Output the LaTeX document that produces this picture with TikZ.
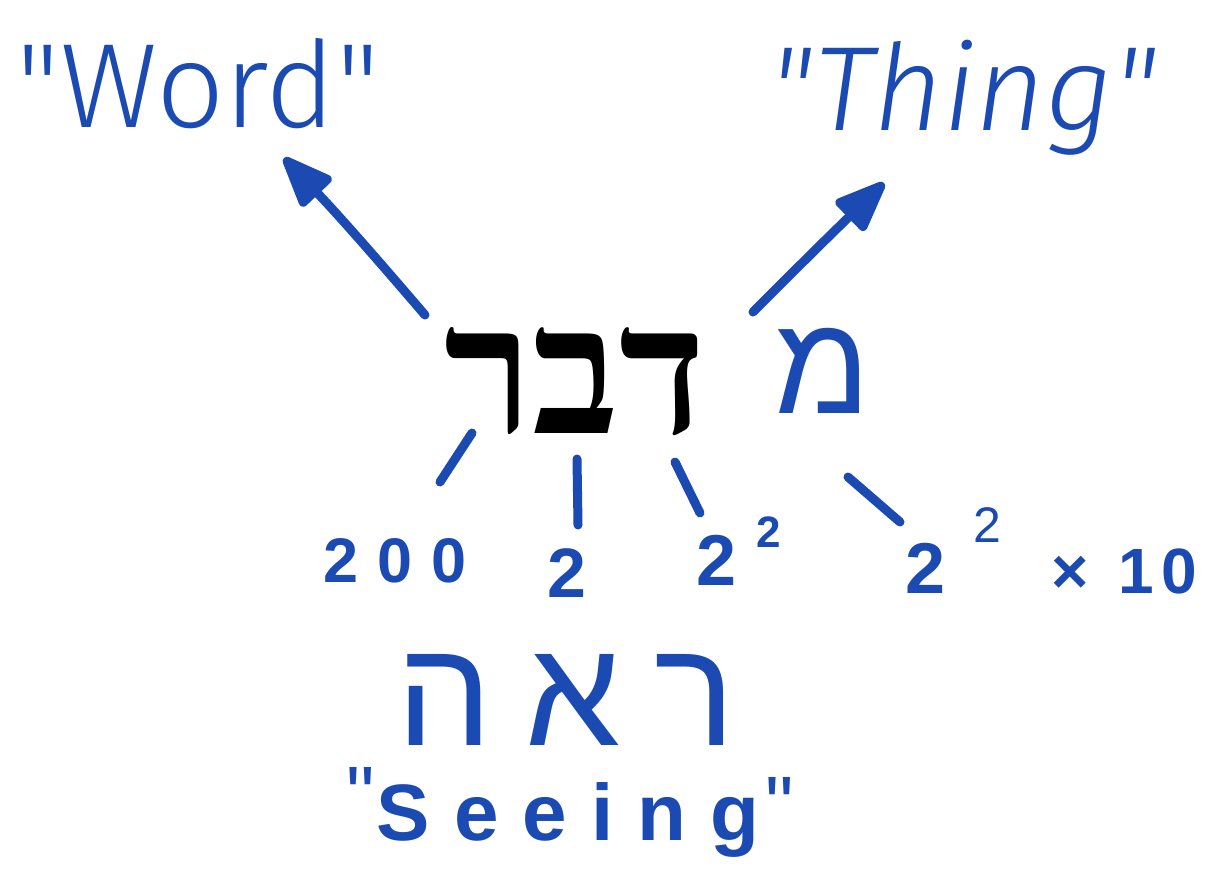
\documentclass[tikz,border=0pt]{standalone}
\usepackage{fontspec}
\setmainfont{Liberation Sans}[Ligatures=TeXOff]
\TeXXeTstate=1
\newfontfamily\thinsans{Fira Sans Light}
\newfontfamily\hebblack[Script=Hebrew]{Liberation Serif}
\newfontfamily\hebhand[Script=Hebrew]{Liberation Sans}
\usetikzlibrary{arrows.meta}
\definecolor{ink}{RGB}{27,75,178}
\begin{document}
\begin{tikzpicture}[x=1pt,y=-1pt,
  txt/.style={text=ink, inner sep=0pt, anchor=base},
  tick/.style={draw=ink, line width=9pt, line cap=round},
  pointer/.style={draw=ink, line width=9pt, line cap=round, line join=round,
    -{Triangle[length=58pt,width=44pt,round]}},
]
\useasboundingbox (0,0) rectangle (1210,892);
\fill[white] (0,0) rectangle (1210,892);

% top words
\node[txt, font=\thinsans\fontsize{120}{124}\selectfont] (word) at (198,127) {"Word"};
\node[txt, font=\thinsans\itshape\fontsize{120}{124}\selectfont] (thing) at (963,130) {"Thing"};

% central Hebrew word
\node[inner sep=0pt, anchor=base, font=\hebblack\bfseries\fontsize{180}{186}\selectfont] (davar) at (575,433) {\beginR דבר\endR};
\node[txt, font=\hebhand\fontsize{140}{144}\selectfont] (mem) at (823,413) {\beginR מ\endR};

% arrows
\coordinate (aw-tail) at (425,315);
\coordinate (aw-tip) at (284,158);
\coordinate (at-tail) at (753,312);
\coordinate (at-tip) at (884,183);
\draw[pointer] (aw-tail) .. controls (395,280) and (345,222) .. (aw-tip);
\draw[pointer] (at-tail) .. controls (790,275) and (820,245) .. (at-tip);

% numeric values
\node[txt, font=\bfseries\fontsize{63}{66}\selectfont\addfontfeature{LetterSpace=30}] (v200) at (395,582) {200};
\node[txt, font=\bfseries\fontsize{70}{72}\selectfont] (v2) at (567,597) {2};
\node[txt, anchor=base west, font=\bfseries\fontsize{72}{74}\selectfont] (v4) at (696,585)
  {2\hspace{20pt}\raisebox{38pt}{\fontsize{44}{46}\selectfont 2}};
\node[txt, anchor=base west, font=\bfseries\fontsize{72}{74}\selectfont] (v40) at (905,593)
  {2\hspace{28pt}\raisebox{51pt}{\mdseries\fontsize{50}{52}\selectfont 2}\hspace{50pt}{\fontsize{64}{66}\selectfont ×\hspace{30pt}1\hspace{8pt}0}};

% ticks from letters to values
\coordinate (t1a) at (472,433); \coordinate (t1b) at (440,482);
\coordinate (t2a) at (577,459); \coordinate (t2b) at (578,525);
\coordinate (t3a) at (675,462); \coordinate (t3b) at (700,513);
\coordinate (t4a) at (848,477); \coordinate (t4b) at (900,522);
\draw[tick] (t1a) -- (t1b);
\draw[tick] (t2a) -- (t2b);
\draw[tick] (t3a) -- (t3b);
\draw[tick] (t4a) -- (t4b);

% bottom word
\node[txt, font=\hebhand\fontsize{152}{156}\selectfont\addfontfeature{LetterSpace=22}] (reeh) at (566,745) {\beginR ראה\endR};
\node[txt, font=\bfseries\fontsize{80}{84}\selectfont] (seeing) at (570,840)
  {\raisebox{18pt}{\mdseries"}\hspace{2pt}S\kern24pt e\kern24pt e\kern24pt i\kern24pt n\kern24pt g\hspace{6pt}\raisebox{8pt}{\mdseries"}};
\end{tikzpicture}
\end{document}
